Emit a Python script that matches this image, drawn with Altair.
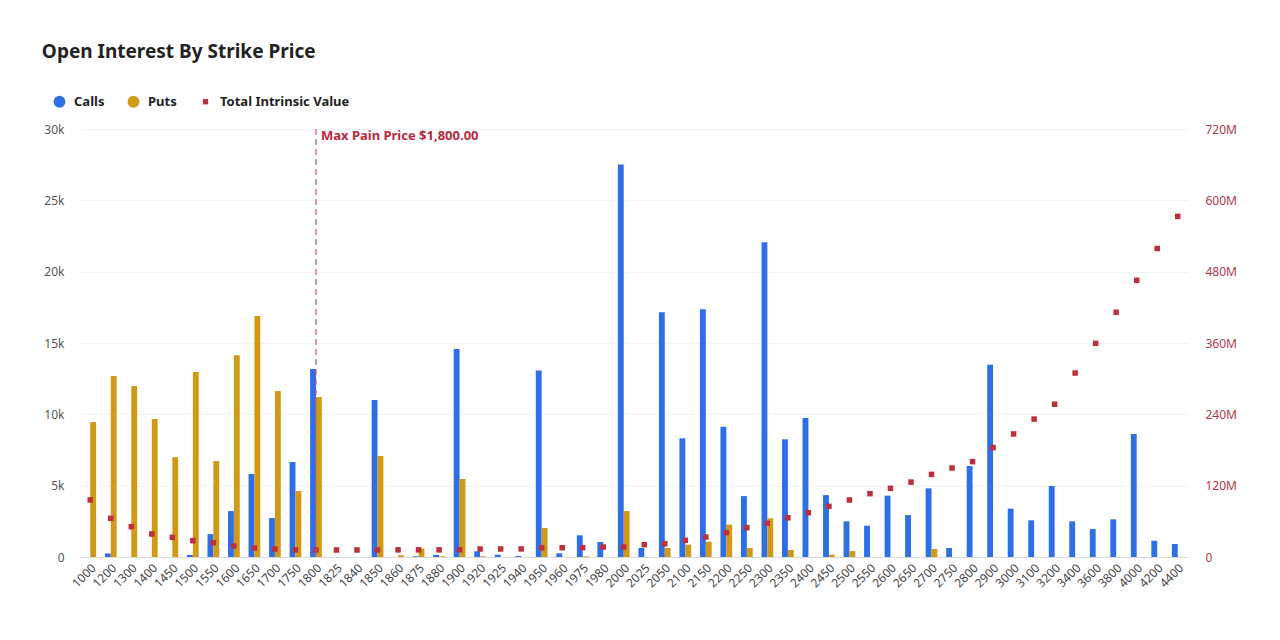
import altair as alt
import pandas as pd

strikes = ["1000", "1200", "1300", "1400", "1450", "1500", "1550", "1600", "1650", "1700",
           "1750", "1800", "1825", "1840", "1850", "1860", "1875", "1880", "1900", "1920",
           "1925", "1940", "1950", "1960", "1975", "1980", "2000", "2025", "2050", "2100",
           "2150", "2200", "2250", "2300", "2350", "2400", "2450", "2500", "2550", "2600",
           "2650", "2700", "2750", "2800", "2900", "3000", "3100", "3200", "3400", "3600",
           "3800", "4000", "4200", "4400"]

calls = [0, 250, 0, 0, 0, 150, 1600, 3220, 5820, 2730,
         6660, 13170, 0, 0, 11000, 0, 50, 150, 14580, 400,
         160, 70, 13080, 260, 1520, 1050, 27520, 630, 17150, 8320,
         17360, 9130, 4270, 22070, 8250, 9740, 4340, 2500, 2190, 4300,
         2940, 4810, 630, 6380, 13480, 3390, 2570, 4980, 2500, 1960,
         2640, 8620, 1140, 910]

puts = [9460, 12680, 11980, 9670, 7000, 12960, 6730, 14150, 16890, 11630,
        4620, 11210, 0, 0, 7080, 120, 600, 50, 5470, 50,
        0, 0, 2030, 0, 50, 0, 3220, 0, 630, 860,
        1070, 2270, 630, 2710, 490, 0, 160, 420, 0, 0,
        0, 560, 0, 0, 0, 0, 0, 0, 0, 0,
        0, 0, 0, 0]

intrinsic = [96e6, 65e6, 51e6, 38.7e6, 33e6, 27.5e6, 24e6, 18.5e6, 15e6, 13.5e6,
             12e6, 11.8e6, 11.8e6, 11.8e6, 11.9e6, 12e6, 12e6, 12e6, 12.2e6, 13.5e6,
             13.5e6, 13.6e6, 15.5e6, 15.6e6, 15.7e6, 16.8e6, 16.9e6, 20.7e6, 22.4e6, 28e6,
             33.6e6, 41e6, 49.4e6, 56.7e6, 66e6, 74.5e6, 85.2e6, 95.9e6, 106.5e6, 115.5e6,
             126e6, 139e6, 149.7e6, 160.4e6, 184e6, 207e6, 232e6, 257e6, 309.5e6, 359.5e6,
             411.7e6, 465.5e6, 519e6, 573e6]

max_pain_strike = "1800"
max_pain_label = "Max Pain Price $1,800.00"

series_names = ["Calls", "Puts", "Total Intrinsic Value"]
series_colors = ["#2f6fe6", "#d09a16", "#be2f3e"]
series_shapes = ["circle", "circle", "M-0.45,-0.45H0.45V0.45H-0.45Z"]

df = pd.DataFrame({"strike": strikes, "Calls": calls, "Puts": puts, "intrinsic": intrinsic})

FONT = "Noto Sans"
SI_LABEL = "datum.value == 0 ? '0' : format(datum.value, '~s')"

x_enc = alt.X(
    "strike:O", sort=strikes,
    scale=alt.Scale(paddingInner=0, paddingOuter=0),
    axis=alt.Axis(title=None, labelAngle=-45, ticks=False, domainColor="#d9d9d9",
                  labelColor="#444444", labelFontSize=12, labelPadding=5, grid=False),
)

color_scale = alt.Scale(domain=series_names, range=series_colors)
shape_scale = alt.Scale(domain=series_names, range=series_shapes)
legend = alt.Legend(title=None, orient="none", legendX=-27, legendY=-34,
                    direction="horizontal", symbolSize=140, labelFontSize=13,
                    labelFontWeight="bold", labelColor="#222222", labelOffset=8,
                    columnPadding=22, symbolStrokeWidth=0)

bars = alt.Chart(df).transform_fold(["Calls", "Puts"], as_=["series", "oi"]).mark_bar().encode(
    x=x_enc,
    xOffset=alt.XOffset("series:N", sort=["Calls", "Puts"],
                        scale=alt.Scale(paddingInner=0, paddingOuter=0.75)),
    y=alt.Y("oi:Q", scale=alt.Scale(domain=[0, 30000]),
            axis=alt.Axis(title=None, values=[0, 5000, 10000, 15000, 20000, 25000, 30000],
                          labelExpr=SI_LABEL, ticks=False, domain=False, labelPadding=16,
                          labelColor="#555555", labelFontSize=12, gridColor="#f3f3f3")),
    color=alt.Color("series:N", scale=color_scale, legend=legend),
)

points = alt.Chart(df).transform_calculate(series="'Total Intrinsic Value'").mark_point(
    filled=True, size=150, opacity=1
).encode(
    x=x_enc,
    y=alt.Y("intrinsic:Q", scale=alt.Scale(domain=[0, 720e6]),
            axis=alt.Axis(title=None, orient="right",
                          values=[0, 120e6, 240e6, 360e6, 480e6, 600e6, 720e6],
                          labelExpr=SI_LABEL, ticks=False, domain=False, grid=False,
                          labelPadding=17, labelColor="#b03a48", labelFontSize=12)),
    color=alt.Color("series:N", scale=color_scale, legend=legend),
    shape=alt.Shape("series:N", scale=shape_scale, legend=legend),
)

mp_df = pd.DataFrame({"strike": [max_pain_strike], "txt": [max_pain_label]})

rule = alt.Chart(mp_df).mark_rule(color="#d25563", strokeDash=[6, 4], strokeWidth=1.2).encode(
    x=x_enc
)

label = alt.Chart(mp_df).mark_text(
    align="left", baseline="middle", dx=5, fontSize=13, fontWeight="bold", color="#b8283c"
).encode(x=x_enc, y=alt.value(7), text="txt:N")

chart = alt.layer(bars, points, rule, label).resolve_scale(y="independent").properties(
    width=1108, height=428,
    title=alt.TitleParams("Open Interest By Strike Price", anchor="start", fontSize=19,
                          fontWeight="bold", color="#222222", dx=-2, offset=33, font=FONT),
    padding={"left": 72, "top": 121, "right": 60, "bottom": 60},
    autosize="none",
).configure(font=FONT).configure_view(stroke=None)

chart.save("out.html", embed_options={"renderer": "svg", "actions": False})
